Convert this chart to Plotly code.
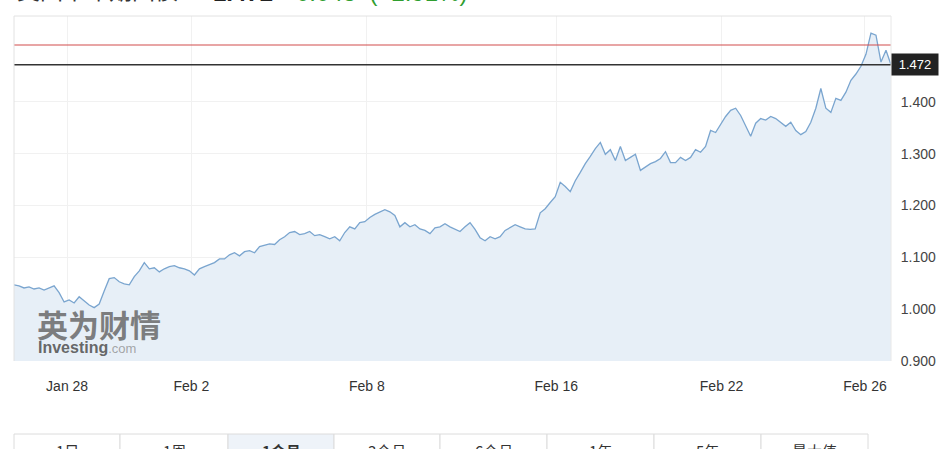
import plotly.graph_objects as go

# ---- data ----
yields = [
    1.047, 1.045, 1.041, 1.043, 1.039, 1.041, 1.037, 1.041, 1.045, 1.032,
    1.014, 1.018, 1.012, 1.024, 1.016, 1.008, 1.003, 1.010, 1.035, 1.059,
    1.061, 1.053, 1.049, 1.047, 1.063, 1.074, 1.090, 1.078, 1.080, 1.072,
    1.078, 1.082, 1.084, 1.080, 1.078, 1.074, 1.066, 1.078, 1.082, 1.086,
    1.090, 1.097, 1.097, 1.105, 1.109, 1.103, 1.111, 1.113, 1.109, 1.121,
    1.123, 1.126, 1.125, 1.134, 1.140, 1.148, 1.150, 1.144, 1.146, 1.150,
    1.142, 1.144, 1.140, 1.136, 1.140, 1.132, 1.148, 1.159, 1.155, 1.167,
    1.169, 1.177, 1.183, 1.188, 1.192, 1.188, 1.181, 1.159, 1.167, 1.159,
    1.163, 1.155, 1.152, 1.146, 1.157, 1.159, 1.165, 1.159, 1.155, 1.150,
    1.159, 1.167, 1.154, 1.138, 1.132, 1.140, 1.136, 1.140, 1.152, 1.157,
    1.163, 1.159, 1.155, 1.154, 1.155, 1.186, 1.194, 1.206, 1.217, 1.245,
    1.237, 1.227, 1.248, 1.264, 1.281, 1.295, 1.310, 1.322, 1.299, 1.308,
    1.287, 1.314, 1.287, 1.293, 1.299, 1.268, 1.275, 1.281, 1.285, 1.291,
    1.304, 1.283, 1.283, 1.293, 1.287, 1.293, 1.308, 1.303, 1.314, 1.345,
    1.341, 1.357, 1.372, 1.384, 1.388, 1.374, 1.355, 1.334, 1.359, 1.368,
    1.365, 1.372, 1.368, 1.361, 1.353, 1.361, 1.345, 1.337, 1.343, 1.361,
    1.388, 1.426, 1.388, 1.380, 1.407, 1.403, 1.419, 1.442, 1.454, 1.469,
    1.492, 1.533, 1.529, 1.477, 1.500, 1.472,
]
idx = list(range(len(yields)))

tick_pos = [10.6, 35.4, 70.4, 108.2, 141.2, 169.8]
tick_text = ["Jan 28", "Feb 2", "Feb 8", "Feb 16", "Feb 22", "Feb 26"]
y_ticks = [0.9, 1.0, 1.1, 1.2, 1.3, 1.4]

last_price = 1.472
ref_level = 1.51
title_name = "美国十年期国债"
title_price = "1.472"
title_change = "+0.043"
title_pct = "(+2.91%)"
buttons = ["1日", "1周", "1个月", "3个月", "6个月", "1年", "5年", "最大值"]
selected_button = 2

# ---- layout geometry helpers (pixels -> paper) ----
W, H = 949, 449
ML, MR, MT, MB = 14, 58, 16, 88
PW, PH = W - ML - MR, H - MT - MB


def px(x):
    return (x - ML) / PW


def py(y):
    return (H - MB - y) / PH


FONT = "Liberation Sans, Arial, sans-serif"
CJK = "Noto Sans CJK SC, sans-serif"

fig = go.Figure()
fig.add_trace(go.Scatter(
    x=idx, y=yields, mode="lines",
    line=dict(color="#7aa5cf", width=1.3),
    fill="tozeroy", fillcolor="#e7eff7",
    hoverinfo="skip", showlegend=False,
))

shapes = []
# reference lines
shapes.append(dict(type="line", xref="paper", yref="y", x0=0, x1=1,
                   y0=ref_level, y1=ref_level, line=dict(color="#d24c4c", width=1.2)))
shapes.append(dict(type="line", xref="paper", yref="y", x0=0, x1=1,
                   y0=last_price, y1=last_price, line=dict(color="#333333", width=1.4)))
# plot frame (left, top, right)
shapes.append(dict(type="line", xref="paper", yref="paper", x0=0, x1=0, y0=0, y1=1,
                   line=dict(color="#e2e2e2", width=1)))
shapes.append(dict(type="line", xref="paper", yref="paper", x0=0, x1=1, y0=1, y1=1,
                   line=dict(color="#e2e2e2", width=1)))
shapes.append(dict(type="line", xref="paper", yref="paper", x0=1, x1=1, y0=0, y1=1,
                   line=dict(color="#e8e8e8", width=1)))

annotations = []
# last price badge
annotations.append(dict(xref="paper", yref="y", x=1.0, y=last_price, xanchor="left",
                        yanchor="middle", text=title_price, showarrow=False,
                        bgcolor="#222222", width=44, height=19,
                        font=dict(family=FONT, size=13, color="white")))

# title (cut off at top of the page)
ty = py(8)
annotations.append(dict(xref="paper", yref="paper", x=px(15), y=ty, xanchor="left",
                        yanchor="bottom", text=title_name, showarrow=False,
                        font=dict(family=CJK, size=23, color="#333333")))
annotations.append(dict(xref="paper", yref="paper", x=px(211), y=ty, xanchor="left",
                        yanchor="bottom", text="<b>" + title_price + "</b>", showarrow=False,
                        font=dict(family=FONT, size=24, color="#222222")))
annotations.append(dict(xref="paper", yref="paper", x=px(280), y=ty, xanchor="left",
                        yanchor="bottom", text=title_change + "  " + title_pct, showarrow=False,
                        font=dict(family=FONT, size=24, color="#2f9e2f")))

# watermark
annotations.append(dict(xref="paper", yref="paper", x=px(35), y=py(323), xanchor="left",
                        yanchor="middle", text="<b>英为财情</b>", showarrow=False,
                        font=dict(family=CJK, size=31, color="rgba(105,105,105,0.85)")))
annotations.append(dict(xref="paper", yref="paper", x=px(36), y=py(347), xanchor="left",
                        yanchor="middle",
                        text="<b>Investing</b><span style='font-size:13px;color:rgba(140,140,140,0.85)'>.com</span>",
                        showarrow=False,
                        font=dict(family=FONT, size=16, color="rgba(85,85,85,0.9)")))

# period buttons
edges = [14, 120, 228, 334, 440, 547, 654, 761, 868]
for i, lab in enumerate(buttons):
    x0, x1 = edges[i], edges[i + 1]
    shapes.append(dict(type="rect", xref="paper", yref="paper",
                       x0=px(x0), x1=px(x1), y0=py(434), y1=py(480),
                       line=dict(color="#dcdcdc", width=1),
                       fillcolor="#eef3f9" if i == selected_button else "white"))
    annotations.append(dict(xref="paper", yref="paper", x=px((x0 + x1) / 2), y=py(450),
                            xanchor="center", yanchor="middle",
                            text=("<b>" + lab + "</b>") if i == selected_button else lab,
                            showarrow=False,
                            font=dict(family=CJK, size=15, color="#333333")))

fig.update_layout(
    width=W, height=H,
    margin=dict(l=ML, r=MR, t=MT, b=MB),
    paper_bgcolor="white", plot_bgcolor="white",
    shapes=shapes, annotations=annotations,
    showlegend=False,
    xaxis=dict(range=[0, len(yields) - 1], tickmode="array", tickvals=tick_pos,
               ticktext=tick_text, showgrid=True, gridcolor="#f1f1f1", zeroline=False,
               showline=False, ticks="outside", ticklen=12, tickcolor="rgba(0,0,0,0)",
               tickfont=dict(family=FONT, size=14, color="#333333"), fixedrange=True),
    yaxis=dict(range=[0.9, 1.566], side="right", tickmode="array", tickvals=y_ticks,
               tickformat=".3f", showgrid=True, gridcolor="#f1f1f1", zeroline=False,
               showline=False, ticks="outside", ticklen=6, tickcolor="rgba(0,0,0,0)",
               tickfont=dict(family=FONT, size=14, color="#444444"), fixedrange=True),
)

fig.write_html(
    "out.html",
    config={"displayModeBar": False},
    post_script="document.body.style.margin='0px';document.body.style.overflow='hidden';",
)
